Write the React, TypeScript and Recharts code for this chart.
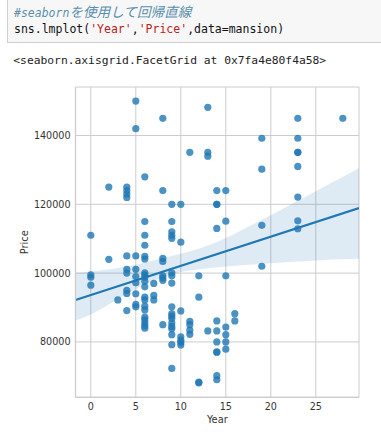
import React from 'react';
import { ComposedChart, Scatter, Line, Area, XAxis, YAxis, CartesianGrid } from 'recharts';

// Scatter points: Year / Price
const pointYears = [
  0, 0, 0, 0,
  2, 2,
  3,
  4, 4, 4, 4, 4, 4, 4, 4, 4, 4,
  5, 5, 5, 5, 5, 5, 5, 5, 5,
  6, 6, 6, 6, 6, 6, 6, 6, 6, 6, 6, 6, 6, 6, 6, 6, 6, 6, 6, 6,
  7, 7, 7,
  8, 8, 8, 8, 8, 8, 8, 8,
  9, 9, 9, 9, 9, 9, 9, 9, 9, 9, 9, 9, 9, 9, 9, 9, 9, 9,
  10, 10, 10, 10, 10, 10, 10,
  11, 11, 11, 11, 11,
  12, 12, 12, 12,
  13, 13, 13, 13,
  14, 14, 14, 14, 14, 14, 14, 14, 14, 14, 14,
  15, 15, 15, 15, 15, 15, 15,
  16, 16,
  19, 19, 19, 19,
  23, 23, 23, 23, 23, 23, 23, 23,
  28,
];
const pointPrices = [
  111000, 99500, 98800, 96500,
  125000, 104000,
  92200,
  125000, 124000, 123000, 122000, 105000, 101100, 100000, 95000, 94100, 89100,
  150000, 142000, 105000, 101100, 99000, 97200, 94000, 90900, 90200,
  128000, 115000, 111000, 108100, 104900, 104100, 100100, 99500, 98800, 97600, 96000, 93000, 92200, 90400, 89300, 87200, 86400, 85500, 84700, 84000,
  97000, 93500, 92200,
  145000, 124000, 104300, 103400, 99200, 98600, 97900, 85000,
  120000, 115000, 112000, 111000, 110100, 100100, 99200, 97100, 90200, 88200, 87500, 86800, 85500, 84500, 83800, 82100, 79200, 72300,
  120000, 109000, 89000, 81500, 80500, 79800, 79100,
  135100, 86000, 85000, 83400, 82200,
  99200, 93000, 68100, 68300,
  148200, 135100, 134000, 83200,
  124000, 120000, 120000, 113000, 86100, 83200, 80000, 77100, 77000, 70200, 69000,
  124000, 115100, 99200, 84300, 82100, 80000, 77900,
  88200, 86100,
  139200, 130200, 113900, 102000,
  145000, 139200, 135100, 135100, 131000, 122100, 115200, 112900,
  145000,
];

// Regression line (read at the two edges of the plot)
const lineYears = [-1.7, 29.8];
const linePrices = [92200, 118900];

// Confidence band
const bandYears = [-1.7, 0, 2.5, 5, 7.5, 10, 12.5, 15, 17.5, 20, 22.5, 25, 27.5, 29.8];
const bandLower = [86200, 88000, 91700, 95400, 98300, 100300, 101300, 101900, 102400, 102900, 103300, 103700, 104000, 104200];
const bandUpper = [100100, 100500, 101300, 102400, 104000, 105600, 107500, 110200, 113500, 116800, 120300, 123800, 127300, 130500];

const xTicks = [0, 5, 10, 15, 20, 25];
const yTicks = [80000, 100000, 120000, 140000];
const xDomain = [-1.7, 29.8];
const yDomain = [63900, 154100];

const points = pointYears.map((x, i) => ({ x, y: pointPrices[i] }));
const lineData = lineYears.map((x, i) => ({ x, y: linePrices[i] }));
const bandData = bandYears.map((x, i) => ({ x, lo: bandLower[i], hi: bandUpper[i] }));

const BLUE = '#1f77b4';
const GRID = '#cccccc';
const TEXT = '#333333';
const CHART_FONT = "'DejaVu Sans', sans-serif";
const MONO = "'DejaVu Sans Mono', 'Liberation Mono', monospace";

const Dot = (props: any) => {
  const { cx, cy } = props;
  if (cx == null || cy == null) return null;
  return <circle cx={cx} cy={cy} r={3.6} fill={BLUE} fillOpacity={0.8} />;
};

export default function App() {
  return (
    <div style={{ position: 'fixed', left: 0, top: 0, width: 381, height: 438, background: '#fff', overflow: 'hidden' }}>
      <svg width={381} height={438} style={{ position: 'absolute', left: 0, top: 0 }}>
        <rect x={7.5} y={-3} width={380} height={45.5} fill="#f7f7f7" stroke="#cfcfcf" strokeWidth={1} />
        <text x={14} y={16.7} fontFamily={MONO} fontSize={11.5} fill="#5a8fae" fontStyle="italic">
          #seaborn<tspan fontFamily="'Noto Sans CJK JP', sans-serif" fontSize={13.6}>を使用して回帰直線</tspan>
        </text>
        <text x={14} y={33.3} fontFamily={MONO} fontSize={11.5} fill="#111">
          sns.lmplot(<tspan fill="#ba2121">'Year'</tspan>,<tspan fill="#ba2121">'Price'</tspan>,data=mansion)
        </text>
        <text x={13.3} y={64.3} fontFamily={MONO} fontSize={11.3} fill="#222">
          {'<seaborn.axisgrid.FacetGrid at 0x7fa4e80f4a58>'}
        </text>
        <text x={217.3} y={423.3} textAnchor="middle" fontFamily={CHART_FONT} fontSize={9.8} fill={TEXT}>Year</text>
        <text transform="translate(28,242.2) rotate(-90)" textAnchor="middle" fontFamily={CHART_FONT} fontSize={9.8} fill={TEXT}>Price</text>
      </svg>
      <div style={{ position: 'absolute', left: 0, top: 0 }}>
        <ComposedChart
          width={381}
          height={438}
          margin={{ top: 87, right: 22, bottom: 0, left: 0 }}
          style={{ fontFamily: CHART_FONT }}
        >
          <CartesianGrid stroke={GRID} strokeWidth={1} horizontal vertical />
          <XAxis
            type="number"
            dataKey="x"
            domain={xDomain}
            allowDataOverflow
            ticks={xTicks}
            height={40.7}
            tickSize={0}
            tickMargin={6}
            tickLine={false}
            axisLine={{ stroke: GRID, strokeWidth: 1.3 }}
            tick={{ fill: TEXT, fontSize: 9.6, fontFamily: CHART_FONT }}
          />
          <YAxis
            type="number"
            domain={yDomain}
            allowDataOverflow
            ticks={yTicks}
            width={75.5}
            tickSize={0}
            tickMargin={5}
            tickLine={false}
            axisLine={{ stroke: GRID, strokeWidth: 1.3 }}
            tick={{ fill: TEXT, fontSize: 9.6, fontFamily: CHART_FONT }}
          />
          <Scatter data={points} dataKey="y" shape={Dot} isAnimationActive={false} />
          <Area
            data={bandData}
            dataKey={(d: any) => [d.lo, d.hi]}
            type="monotone"
            stroke="none"
            fill={BLUE}
            fillOpacity={0.15}
            isAnimationActive={false}
            dot={false}
            activeDot={false}
          />
          <Line
            data={lineData}
            dataKey="y"
            type="linear"
            stroke={BLUE}
            strokeWidth={2.2}
            dot={false}
            activeDot={false}
            isAnimationActive={false}
          />
        </ComposedChart>
      </div>
    </div>
  );
}
